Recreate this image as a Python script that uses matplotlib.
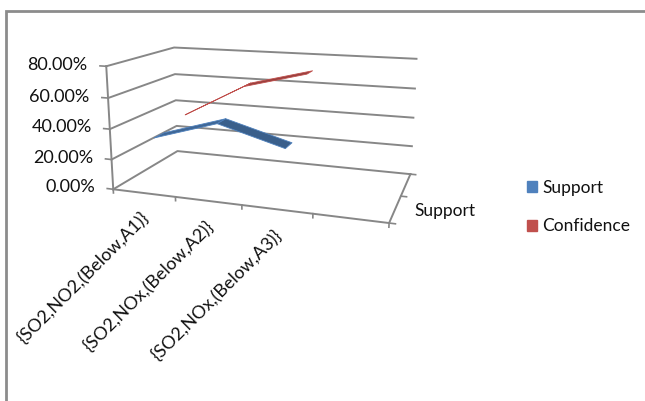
import matplotlib
matplotlib.use("Agg")
import matplotlib.pyplot as plt
from matplotlib.patches import Patch, Rectangle
from mpl_toolkits.mplot3d import proj3d
import numpy as np

# data
categories = ["{SO2,NO2,(Below,A1)}", "{SO2,NOx,(Below,A2)}", "{SO2,NOx,(Below,A3)}", ""]
support = [0.32, 0.45, 0.33]
confidence = [0.37, 0.60, 0.71]
series_names = ["Support", "Confidence"]
series_colors = ["#4F81BD", "#C0504D"]
depth_labels = ["Support", ""]
z_ticks = [0.0, 0.2, 0.4, 0.6, 0.8]
z_labels = ["0.00%", "20.00%", "40.00%", "60.00%", "80.00%"]

plt.rcParams['font.family'] = ['Lato', 'DejaVu Sans']
grid_col = "#878787"
txt_col = "#111111"
fs = 12.5

fig = plt.figure(figsize=(6.45, 4.01), dpi=100)
S = 420
cx, cy = 267, 278
ax = fig.add_axes([(cx - 0.514 * S) / 645, (cy - 0.514 * S) / 401, S / 645, S / 401],
                  projection='3d', computed_zorder=False)
ax.view_init(elev=13.8, azim=-71.2)
ax.set_proj_type('persp', focal_length=0.3)
ax.set_box_aspect((277, 146, 125), zoom=0.764)
nx = len(categories)
ny = len(series_names)
ax.set_xlim(0, nx)
ax.set_ylim(0, ny)
ax.set_zlim(0, 0.8)
ax.set_axis_off()

# walls: horizontal gridlines on left wall and back wall
for z in z_ticks:
    ax.plot([0, 0, nx], [0, ny, ny], [z, z, z], color=grid_col, lw=1.4, zorder=1)
# floor edges
ax.plot([0, nx, nx], [0, 0, ny], [0, 0, 0], color=grid_col, lw=1.4, zorder=1)
# vertical axis with ticks
ax.plot([0, 0], [0, 0], [0, 0.8], color=grid_col, lw=1.4, zorder=1)
for z in z_ticks:
    ax.plot([0, -0.1], [0, 0], [z, z], color=grid_col, lw=1.2, zorder=1)
# category ticks
for i in range(nx + 1):
    ax.plot([i, i], [0, 0], [0, -0.025], color=grid_col, lw=1.2, zorder=1)
# depth ticks
for j in range(ny + 1):
    ax.plot([nx, nx + 0.08], [j, j], [0, 0], color=grid_col, lw=1.2, zorder=1)

# ribbons
w = 0.15
for j, (vals, col) in enumerate(zip([support, confidence], series_colors)):
    xs = np.arange(len(vals)) + 0.5
    X = np.array([xs, xs])
    Y = np.array([np.full(len(vals), j + 0.5 - w), np.full(len(vals), j + 0.5 + w)])
    Z = np.array([vals, vals])
    ax.plot_surface(X, Y, Z, color=col, shade=True, linewidth=0.6, edgecolor=col,
                    antialiased=True, zorder=5 - j)

fig.canvas.draw()
M = ax.get_proj()


def to2d(x, y, z):
    x2, y2, _ = proj3d.proj_transform(x, y, z, M)
    return x2, y2


for z, lab in zip(z_ticks, z_labels):
    px, py = to2d(-0.3, 0, z)
    ax.text2D(px, py, lab, transform=ax.transData, ha='right', va='center',
              fontsize=13, color=txt_col)
for i, lab in enumerate(categories):
    px, py = to2d(i + 0.62, 0, -0.1)
    ax.text2D(px, py, lab, transform=ax.transData, ha='right', va='top',
              rotation=45, fontsize=13, color=txt_col)
for j, lab in enumerate(depth_labels):
    px, py = to2d(nx + 0.25, j + 0.5, 0)
    ax.text2D(px, py, lab, transform=ax.transData, ha='left', va='center',
              fontsize=fs, color=txt_col)

handles = [Patch(color=c, label=n) for n, c in zip(series_names, series_colors)]
fig.legend(handles=handles, loc='center left', bbox_to_anchor=(511 / 645, 1 - 207 / 401),
           frameon=False, handlelength=0.6, handleheight=0.6, handletextpad=0.3,
           labelspacing=1.3, fontsize=fs, labelcolor=txt_col)

fig.patches.append(Rectangle((5.5 / 645, -0.1), 1.2, 1.1 - 11 / 401, transform=fig.transFigure,
                             fill=False, edgecolor="#8c8c8c", lw=2))

fig.savefig("out.png", dpi=100)
